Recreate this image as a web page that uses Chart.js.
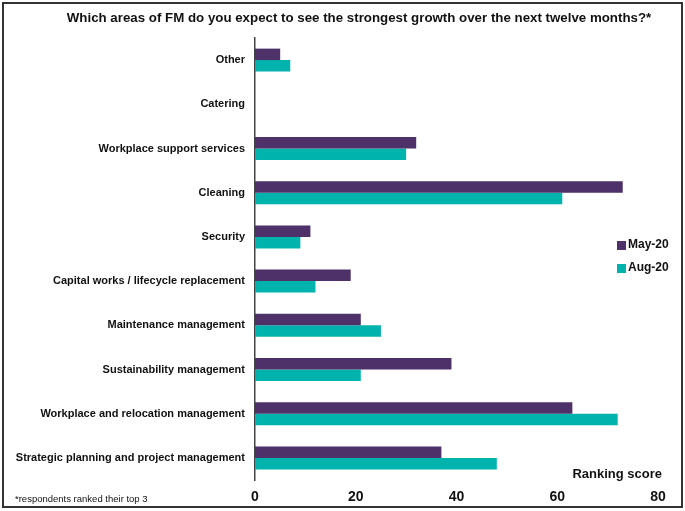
<!DOCTYPE html>
<html>
<head>
<meta charset="utf-8">
<script src="https://cdn.jsdelivr.net/npm/chart.js@4"></script>
<style>
    html, body { margin: 0; padding: 0; background: #fff; }
    #graphique-fm { display: block; }
</style>
</head>
<body>
<canvas id="graphique-fm" width="685" height="511"></canvas>
<script>
const categories = [
    "Other",
    "Catering",
    "Workplace support services",
    "Cleaning",
    "Security",
    "Capital works / lifecycle replacement",
    "Maintenance management",
    "Sustainability management",
    "Workplace and relocation management",
    "Strategic planning and project management"
]
const valeursMai = [5, 0, 32, 73, 11, 19, 21, 39, 63, 37]
const valeursAout = [7, 0, 30, 61, 9, 12, 25, 21, 72, 48]
const labelsSeries = ["May-20", "Aug-20"]
const ticksX = [0, 20, 40, 60, 80]

const titre = "Which areas of FM do you expect to see the strongest growth over the next twelve months?*"
const police = "'Liberation Sans', Arial, sans-serif"
const couleurs = ["#4d3168", "#00b3ad"]

// Cadre, titre, légende, titre d'axe et note de bas de page
const decorations = {
    id: "decorations",
    afterDraw(chart) {
        const ctx = chart.ctx
        ctx.save()

        ctx.strokeStyle = "#333"
        ctx.lineWidth = 2
        ctx.strokeRect(3, 3, 679, 504)

        ctx.fillStyle = "#111"
        ctx.textBaseline = "middle"
        ctx.textAlign = "center"
        ctx.font = "bold 13.3px " + police
        ctx.fillText(titre, 359, 18)

        ctx.font = "bold 12px " + police
        chart.data.datasets.forEach((ds, i) => {
            const y = 245 + i * 23
            ctx.fillStyle = ds.backgroundColor
            ctx.fillRect(617, y - 4, 9, 9)
            ctx.fillStyle = "#111"
            ctx.textAlign = "left"
            ctx.fillText(ds.label, 628, y)
        })

        ctx.font = "bold 13px " + police
        ctx.textAlign = "right"
        ctx.fillText("Ranking score", 662, 474)

        ctx.font = "9.5px " + police
        ctx.textAlign = "left"
        ctx.fillText("*respondents ranked their top 3", 15, 499)
        ctx.restore()
    }
}

const data = {
    labels: categories,
    datasets: [{
        label: labelsSeries[0],
        data: valeursMai,
        backgroundColor: couleurs[0],
    }, {
        label: labelsSeries[1],
        data: valeursAout,
        backgroundColor: couleurs[1],
    }],
}

const config = {
    type: "bar",
    data: data,
    options: {
        indexAxis: "y",
        responsive: false,
        animation: false,
        categoryPercentage: 0.52,
        barPercentage: 1,
        layout: { padding: { left: 0, right: 27, top: 38, bottom: 0 } },
        plugins: {
            legend: { display: false },
            tooltip: { enabled: false },
        },
        scales: {
            x: {
                min: 0,
                max: 80,
                afterBuildTicks: (scale) => {
                    scale.ticks = ticksX.map(v => ({ value: v }))
                },
                afterFit: (scale) => { scale.height = 31 },
                grid: { display: false, drawTicks: false },
                border: { display: false },
                ticks: {
                    padding: 9,
                    color: "#111",
                    font: { family: police, size: 14, weight: "bold" },
                },
            },
            y: {
                afterFit: (scale) => { scale.width = 255 },
                grid: { display: false, drawTicks: false },
                border: { display: true, color: "#444", width: 1.5 },
                ticks: {
                    padding: 10,
                    color: "#111",
                    font: { family: police, size: 11, weight: "bold" },
                },
            },
        },
    },
    plugins: [decorations],
}

const graphiqueFM = new Chart(document.querySelector("#graphique-fm"), config)
</script>
</body>
</html>
